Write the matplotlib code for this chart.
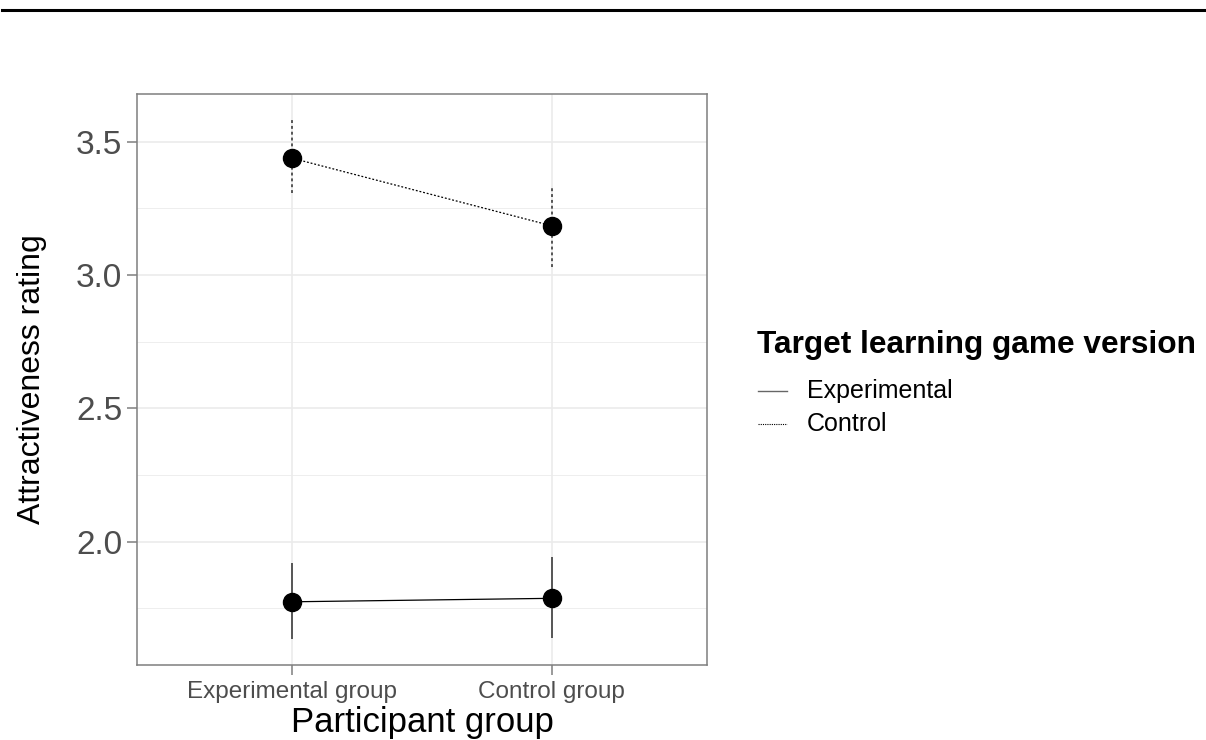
import matplotlib
matplotlib.use("Agg")
import matplotlib.pyplot as plt
from matplotlib.lines import Line2D

plt.rcParams['font.family'] = ['Liberation Sans', 'DejaVu Sans']

# data
groups = ["Experimental group", "Control group"]
versions = ["Experimental", "Control"]
means = {"Experimental": [1.775, 1.788], "Control": [3.438, 3.185]}
lower = {"Experimental": [1.634, 1.638], "Control": [3.309, 3.031]}
upper = {"Experimental": [1.919, 1.944], "Control": [3.583, 3.327]}
styles = {"Experimental": "-", "Control": (0, (1.5, 1.5))}

W, H = 1206, 740
fig = plt.figure(figsize=(W / 100, H / 100), dpi=100)
ax = fig.add_axes([137/W, 1 - 665/H, 570/W, 571/H])

xs = list(range(1, len(groups) + 1))
for v in versions:
    ax.vlines(xs, lower[v], upper[v], colors='#555555', linewidth=1.4,
              linestyles=styles[v], zorder=3)
    ax.plot(xs, means[v], color='black', linewidth=0.9, linestyle=styles[v], zorder=3)
    ax.plot(xs, means[v], 'o', color='black', markersize=13, zorder=4)

ax.set_xlim(0.4, 2.6)
ax.set_ylim(1.538, 3.679)
ax.set_xticks(xs)
ax.set_xticklabels(groups, fontsize=17.5, color='#4d4d4d')
ax.set_yticks([2.0, 2.5, 3.0, 3.5])
ax.set_yticklabels(["2.0", "2.5", "3.0", "3.5"], fontsize=24, color='#4d4d4d')
ax.set_yticks([1.75, 2.25, 2.75, 3.25], minor=True)
ax.tick_params(axis='both', which='major', length=7.5, width=1.1, color='#7f7f7f')
ax.tick_params(axis='x', which='major', pad=4)
ax.tick_params(axis='y', which='major', pad=3)
ax.tick_params(axis='y', which='minor', length=0)
ax.grid(which='major', color='#ebebeb', linewidth=1.2, zorder=0)
ax.grid(which='minor', axis='y', color='#ebebeb', linewidth=0.6, zorder=0)
ax.set_axisbelow(True)
for s in ax.spines.values():
    s.set_color('#7f7f7f')
    s.set_linewidth(1.1)

ax.set_xlabel("Participant group", fontsize=25, labelpad=2)
ax.set_ylabel("Attractiveness rating", fontsize=23, labelpad=21)

# legend drawn by hand in figure pixels
fig.text(757/W, 1 - 345/H, "Target learning game version", fontsize=22.8,
         fontweight='bold', ha='left', va='center')
key_y = [391, 424]
key_styles = [("-", '#666666', 1.0), ((0, (1, 1)), 'black', 0.8)]
for v, y, (ls, c, lw) in zip(versions, key_y, key_styles):
    fig.add_artist(Line2D([758/W, 787/W], [1 - y/H, 1 - y/H], color=c, linewidth=lw, linestyle=ls))
    fig.text(807/W, 1 - y/H, v, fontsize=18, ha='left', va='center')

# rule across the top of the page
fig.add_artist(Line2D([2/W, 1], [1 - 10/H, 1 - 10/H], color='black', linewidth=2.2))

fig.savefig("out.png", dpi=100)
